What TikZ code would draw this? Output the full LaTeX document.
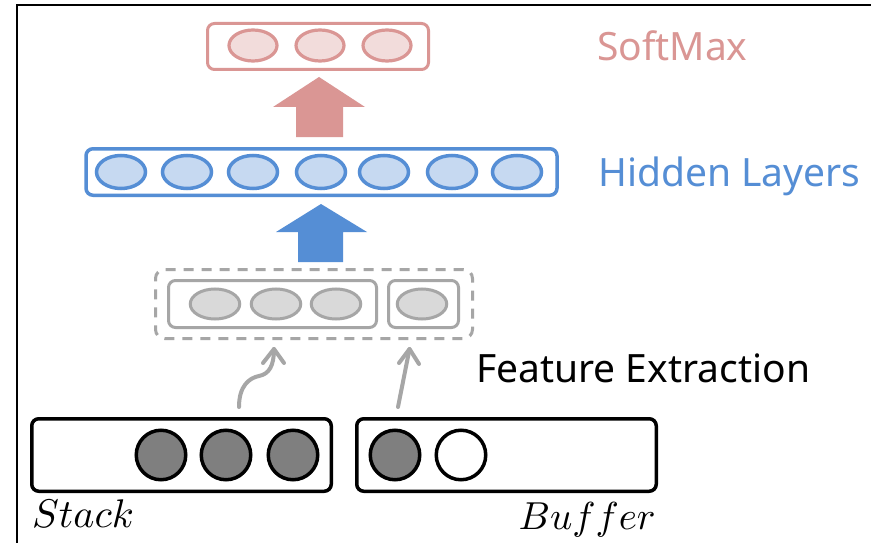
\documentclass[tikz,border=0pt]{standalone}
\usepackage{fontspec}
\setmainfont{Noto Sans}
\usetikzlibrary{shapes.geometric}
\definecolor{redline}{HTML}{DA9694}
\definecolor{redfill}{HTML}{F2DCDB}
\definecolor{blueline}{HTML}{558ED5}
\definecolor{bluefill}{HTML}{C6D9F1}
\definecolor{grayline}{HTML}{A6A6A6}
\definecolor{grayfill}{HTML}{D9D9D9}
\definecolor{darkfill}{HTML}{7F7F7F}
\tikzset{
  box/.style={draw, rounded corners=7pt, inner sep=0pt, fill=white},
  unit/.style={draw, ellipse, inner sep=0pt},
  redbox/.style={box, draw=redline, line width=3pt, minimum width=221pt, minimum height=46pt},
  redunit/.style={unit, draw=redline, fill=redfill, line width=3.2pt, minimum width=48pt, minimum height=31pt},
  bluebox/.style={box, draw=blueline, line width=3.5pt, minimum width=471pt, minimum height=46.5pt},
  blueunit/.style={unit, draw=blueline, fill=bluefill, line width=3.5pt, minimum width=49pt, minimum height=33pt},
  graybox/.style={box, draw=grayline, line width=3pt, minimum height=47pt},
  grayunit/.style={unit, draw=grayline, fill=grayfill, line width=3pt, minimum width=49.5pt, minimum height=30pt},
  dashbox/.style={draw=grayline, line width=3pt, dash pattern=on 10pt off 8pt, rounded corners=9pt, inner sep=0pt, minimum width=317pt, minimum height=69pt},
  blackbox/.style={box, draw=black, line width=3.5pt, minimum width=299.5pt, minimum height=72.5pt},
  blackunit/.style={draw=black, circle, line width=3.5pt, inner sep=0pt, minimum size=49.5pt},
  label/.style={font=\fontsize{39}{47}\selectfont, inner sep=0pt},
  mlabel/.style={inner sep=0pt},
  grayarrow/.style={draw=grayline, line width=4pt, line cap=round, line join=round},
}
\begin{document}
\begin{tikzpicture}[x={(1pt,0)}, y={(0,-1pt)}]
\useasboundingbox (0,0) rectangle (871,543);
\fill[white] (0,0) rectangle (871,543);
% frame
\coordinate (fbl) at (16.5,543);
\coordinate (ftl) at (16.5,5);
\coordinate (ftr) at (871,5);
\draw[line width=2pt] (fbl) -- (ftl) -- (ftr);

% softmax
\node[redbox] (soft) at (318,46.5) {};
\node[redunit] (s1) at (253,45.5) {};
\node[redunit] (s2) at (320,45.5) {};
\node[redunit] (s3) at (387,45.5) {};
\node[label, text=redline, anchor=base west] (softlab) at (597,61) {SoftMax};
\fill[redline] (296,137) -- (296,107) -- (273,107) -- (319,77) -- (365,107) -- (343,107) -- (343,137) -- cycle;

% hidden
\node[bluebox] (hid) at (321.5,172) {};
\foreach \x [count=\i] in {121,187,253,321,384,452,517}
  \node[blueunit] (h\i) at (\x,172) {};
\node[label, text=blueline, anchor=base west] (hidlab) at (598,186) {Hidden Layers};
\fill[blueline] (298,262) -- (298,232) -- (276,232) -- (321,204) -- (367,232) -- (343,232) -- (343,262) -- cycle;

% feature extraction
\node[dashbox] (feat) at (314,304) {};
\node[graybox, minimum width=208pt] (fa) at (272.5,304) {};
\node[graybox, minimum width=70pt] (fb) at (423.5,304) {};
\node[grayunit] (g1) at (215,304) {};
\node[grayunit] (g2) at (276,304) {};
\node[grayunit] (g3) at (336,304) {};
\node[grayunit] (g4) at (422,304) {};
\node[label, anchor=base west] (featlab) at (476,382) {Feature Extraction};

% stack and buffer
\node[blackbox] (stack) at (181.5,455) {};
\node[blackbox] (buffer) at (506.5,455) {};
\node[blackunit, fill=darkfill] (k1) at (161,455) {};
\node[blackunit, fill=darkfill] (k2) at (226,455) {};
\node[blackunit, fill=darkfill] (k3) at (293,455) {};
\node[blackunit, fill=darkfill] (b1) at (395,455) {};
\node[blackunit, fill=white] (b2) at (461,455) {};
\node[mlabel, anchor=base west] (stacklab) at (32,527) {\scalebox{4.0}{$Stack$}};
\node[mlabel, anchor=base east] (bufflab) at (656,529) {\scalebox{3.9}{$Buffer$}};

% gray arrows
\coordinate (a1s) at (239,407);
\coordinate (a1t) at (274,349);
\coordinate (a2s) at (398,407);
\coordinate (a2t) at (409.5,349);
\draw[grayarrow] (a1s) .. controls (239,386) and (249,378) .. (259,376) .. controls (269,374) and (274,366) .. (a1t);
\draw[grayarrow] (263,363) -- (a1t) -- (284,363);
\draw[grayarrow] (a2s) -- (a2t);
\draw[grayarrow] (399,363) -- (a2t) -- (419,364);
\end{tikzpicture}
\end{document}
